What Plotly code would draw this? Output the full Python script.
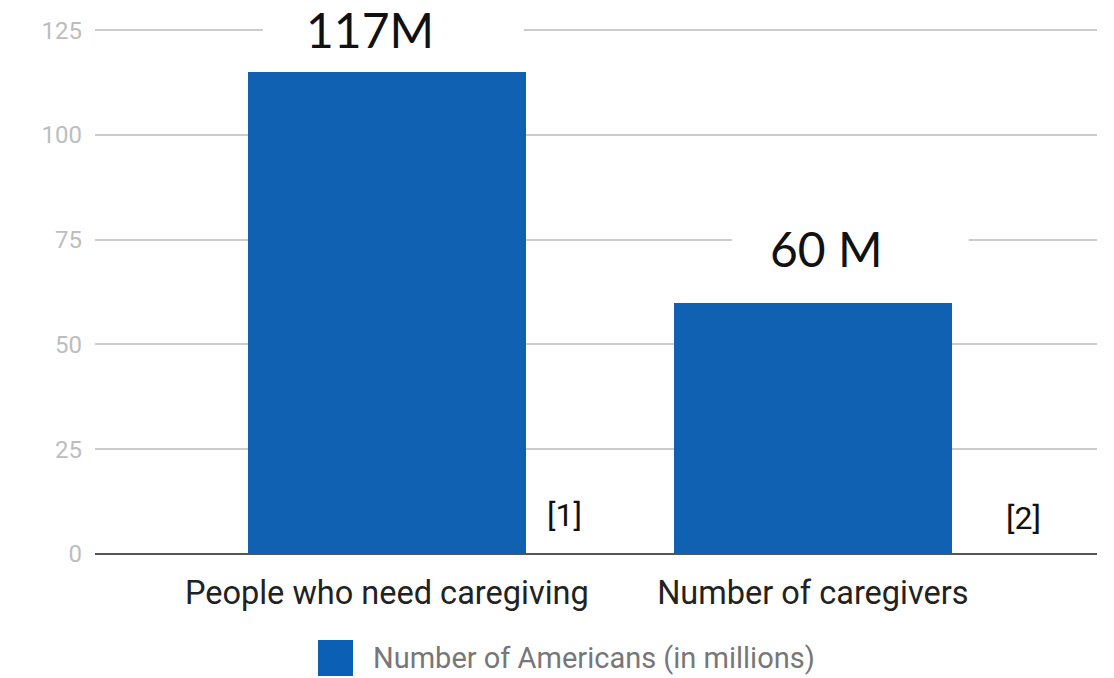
import plotly.graph_objects as go

categories = ["People who need caregiving", "Number of caregivers"]
values = [115, 60]
value_labels = ["117M", "60 M"]
source_refs = ["[1]", "[2]"]
series_name = "Number of Americans (in millions)"
y_ticks = [0, 25, 50, 75, 100, 125]

BAR = "#1061B1"

fig = go.Figure()
fig.add_trace(go.Bar(
    x=categories, y=values, name=series_name,
    marker=dict(color=BAR, line=dict(width=0)),
    width=0.653, showlegend=False,
))

# white boxes behind value labels (break gridlines)
box_offsets = [(-0.291, 0.322), (-0.19, 0.366)]
label_offsets = [-0.04, 0.033]
label_shifts = [12, 24]
ref_offsets = [0.418, 0.495]
ref_shifts = [39, 36]
for i, (v, lab) in enumerate(zip(values, value_labels)):
    x0, x1 = box_offsets[i]
    fig.add_shape(type="rect", xref="x", yref="y",
                  x0=i + x0, x1=i + x1, y0=v + 3, y1=v + 18,
                  fillcolor="white", line=dict(width=0), layer="above")
    fig.add_annotation(x=i + label_offsets[i], y=v, yref="y", text=lab, showarrow=False,
                       yanchor="bottom", yshift=label_shifts[i],
                       font=dict(family="Lato", size=48, color="#111111"))
    fig.add_annotation(x=i + ref_offsets[i], y=0, text=source_refs[i], showarrow=False,
                       yanchor="middle", yshift=ref_shifts[i],
                       font=dict(family="Roboto", size=32, color="#111111"))

# legend (drawn manually for the large swatch)
fig.add_shape(type="rect", xref="paper", yref="paper",
              x0=(318 - 95) / 1002, x1=(353 - 95) / 1002,
              y0=-(640 - 554) / 528, y1=-(676 - 554) / 528,
              fillcolor="#0B60B6", line=dict(width=0))
fig.add_annotation(xref="paper", yref="paper",
                   x=(371 - 95) / 1002, y=-(658 - 554) / 528,
                   xanchor="left", yanchor="middle", showarrow=False,
                   text=series_name,
                   font=dict(family="Roboto", size=29, color="#777777"))

fig.update_layout(
    width=1114, height=678,
    margin=dict(l=95, r=17, t=26, b=124),
    paper_bgcolor="white", plot_bgcolor="white",
    bargap=0,
)
fig.update_xaxes(
    range=[-0.685, 1.667], showgrid=False, showline=False, zeroline=False,
    ticks="", tickfont=dict(family="Roboto", size=32.5, color="#222222"),
    ticklabelstandoff=16,
)
fig.update_yaxes(
    range=[0, 126], tickvals=y_ticks, showgrid=True, gridcolor="#cccccc", gridwidth=2,
    zeroline=True, zerolinecolor="#555555", zerolinewidth=2, showline=False,
    ticks="", tickfont=dict(family="Roboto", size=24, color="#bdbdbd"),
    ticklabelstandoff=12,
)

fig.write_html("out.html")
